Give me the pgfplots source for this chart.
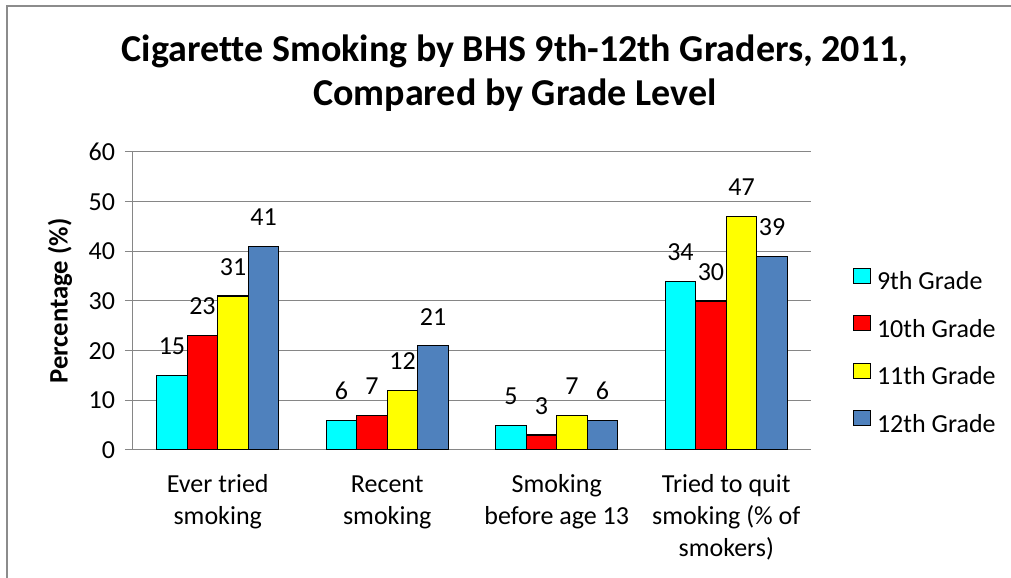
\documentclass[border=0pt]{standalone}
\usepackage{fontspec}
\setmainfont{Carlito}[Ligatures=NoCommon]
\usepackage{pgfplots}
\pgfplotsset{compat=1.18}
\pgfplotsset{/pgf/number format/assume math mode=true}

\definecolor{gridgray}{HTML}{868686}
\definecolor{framegray}{HTML}{8C8C8C}
\definecolor{gnine}{HTML}{00FFFF}
\definecolor{gten}{HTML}{FF0000}
\definecolor{geleven}{HTML}{FFFF00}
\definecolor{gtwelve}{HTML}{4F81BD}
\newcommand{\bodyfont}{\fontsize{19.5}{24}\selectfont}

\begin{document}
\begin{tikzpicture}
\path[use as bounding box] (0,0) rectangle (758.25pt,433.5pt);
% frame of the chart area (only top and left show)
\draw[framegray, line width=1.5pt] (5.25pt,0) -- (5.25pt,429pt) -- (758.25pt,429pt);
% title
\node[anchor=base, inner sep=0pt, font=\fontsize{28.5}{34}\selectfont\bfseries] at (386.25pt,387pt) {Cigarette Smoking by BHS 9th-12th Graders, 2011,};
\node[anchor=base, inner sep=0pt, font=\fontsize{28.5}{34}\selectfont\bfseries] at (386.25pt,354pt) {Compared by Grade Level};

\begin{axis}[
    at={(99.75pt,96pt)}, anchor=south west,
    scale only axis,
    width=508.5pt, height=223.5pt,
    ybar=0pt,
    bar width=22.9pt,
    xmin=-0.5, xmax=3.5,
    ymin=0, ymax=60,
    ytick={0,10,...,60},
    xtick={0,1,2,3},
    xticklabels={{\strut Ever tried\\smoking},{\strut Recent\\smoking},{\strut Smoking\\before age 13},{\strut Tried to quit\\smoking (\% of\\smokers)}},
    extra x ticks={-0.5,0.5,1.5,2.5,3.5},
    extra x tick labels={},
    extra x tick style={major tick length=6.75pt, grid=none},
    axis x line*=bottom,
    axis y line*=left,
    tick align=outside,
    major tick length=6pt,
    x tick style={draw=none},
    ymajorgrids,
    major grid style={gridgray, line width=0.75pt},
    axis line style={gridgray, line width=0.75pt},
    tick style={gridgray, line width=0.75pt},
    ticklabel style={font=\bodyfont, text=black},
    yticklabel style={xshift=-4pt},
    xticklabel style={align=center, inner sep=0pt, anchor=north, yshift=-9pt},
    ylabel={Percentage (\%)},
    every axis y label/.style={at={(axis description cs:-0.1077,0.5)}, rotate=90, anchor=center, font=\fontsize{20}{24}\selectfont\bfseries},
    nodes near coords,
    nodes near coords style={font=\bodyfont, text=black, anchor=south, inner sep=0pt, yshift=15pt},
    every axis plot post/.append style={draw=black, line width=0.9pt,
        legend image code/.code={\draw[##1, line width=0.75pt] (0pt,0pt) rectangle (12.75pt,11.25pt);}},
    legend cell align=left,
    legend style={at={(axis description cs:1.062,0.612)}, anchor=north west,
        draw=none, fill=none, inner sep=0pt, outer sep=0pt,
        row sep=15pt, column sep=4.5pt,
        nodes={inner sep=0pt, text height=14pt, text depth=4pt, font=\bodyfont}},
]
\addplot[fill=gnine] coordinates {(0,15) (1,6) (2,5) (3,34)};
\addplot[fill=gten] coordinates {(0,23) (1,7) (2,3) (3,30)};
\addplot[fill=geleven] coordinates {(0,31) (1,12) (2,7) (3,47)};
\addplot[fill=gtwelve] coordinates {(0,41) (1,21) (2,6) (3,39)};
\legend{9th Grade,10th Grade,11th Grade,12th Grade}
\end{axis}
\end{tikzpicture}
\end{document}
